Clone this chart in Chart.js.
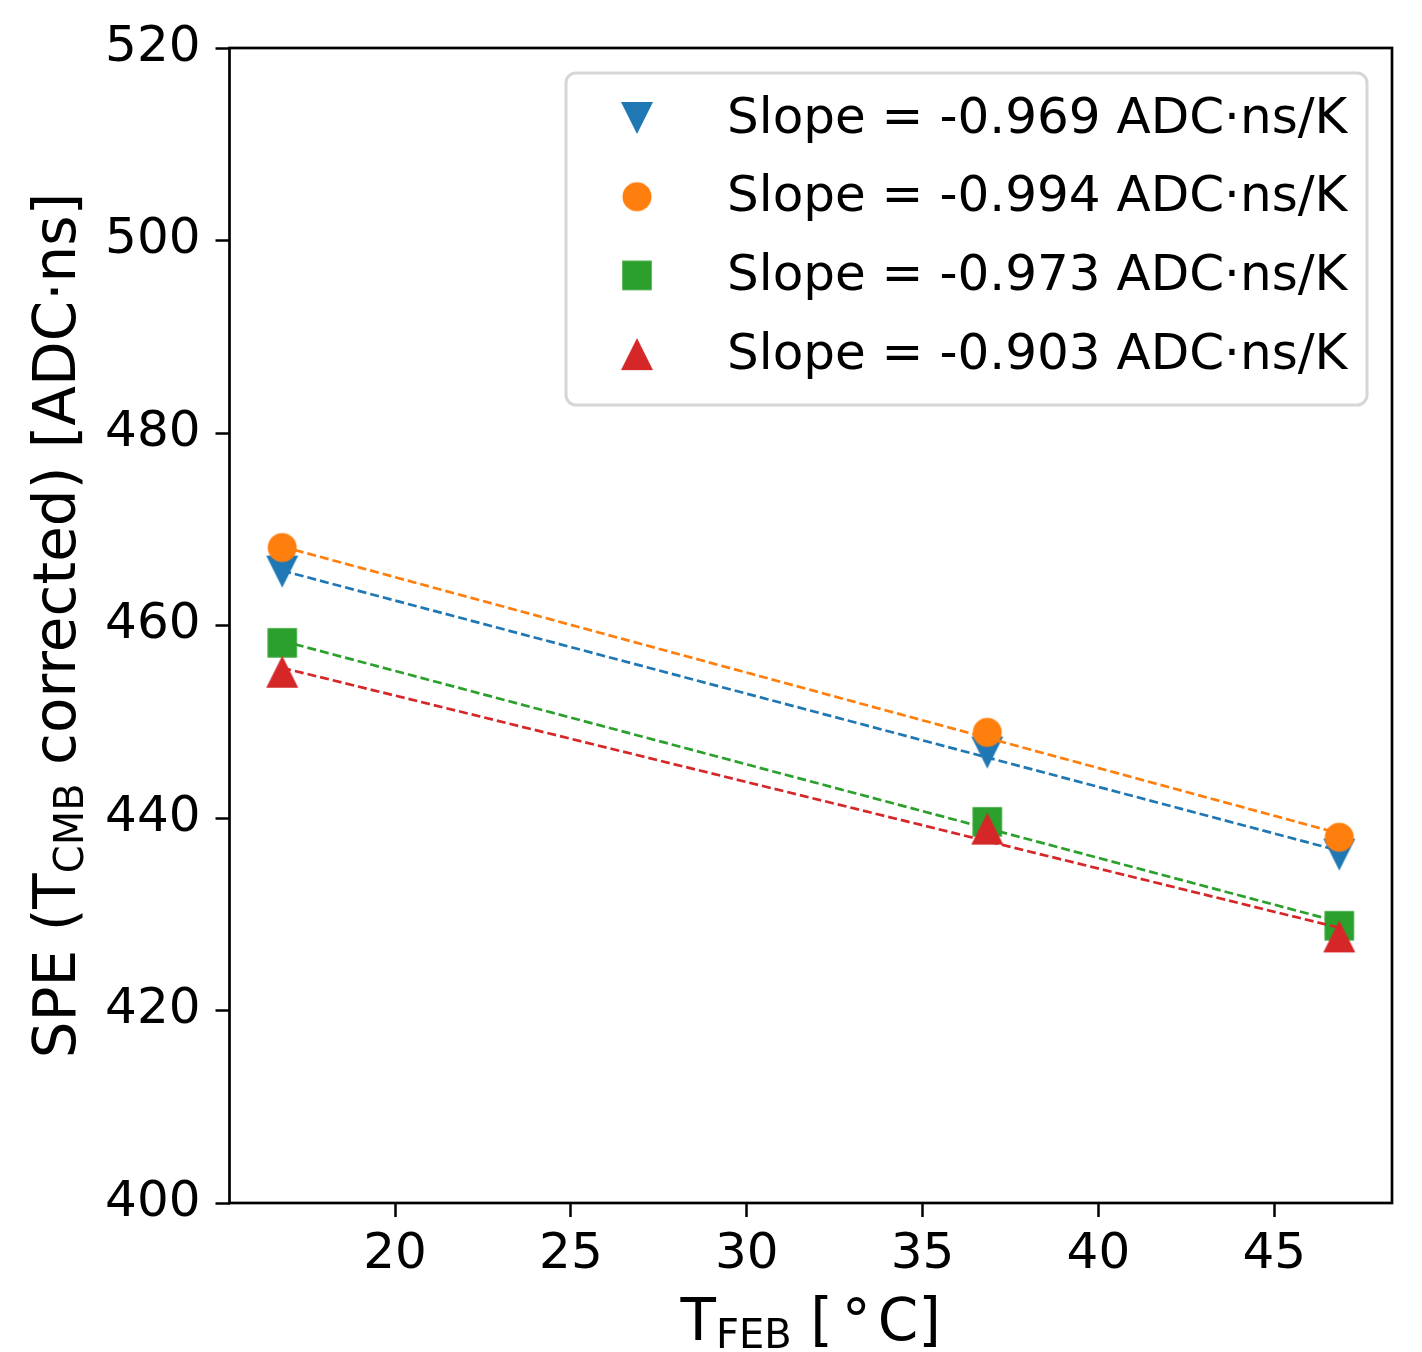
<!DOCTYPE html>
<html>
<head>
<meta charset="utf-8">
<script src="https://cdn.jsdelivr.net/npm/chart.js@4.4.0/dist/chart.umd.min.js"></script>
<style>
    body { margin: 0; background: #fff; }
    #wrap { width: 1422px; height: 1352px; }
</style>
</head>
<body>
<div id="wrap"><canvas id="MyChart" width="1422" height="1352"></canvas></div>
<script>
// measured temperatures (deg C) and SPE values per channel
var temps = [16.79, 36.84, 46.85];
var fitX = [16.79, 46.85];

var speBlue = [465.6, 446.8, 436.2];
var speOrange = [468.1, 448.9, 438.0];
var speGreen = [458.2, 439.6, 428.8];
var speRed = [455.2, 438.9, 427.7];

var fitBlue = [465.7, 436.6];
var fitOrange = [468.2, 438.4];
var fitGreen = [458.4, 429.2];
var fitRed = [455.6, 428.6];

var slopeLabels = [
    'Slope = -0.969 ADC·ns/K',
    'Slope = -0.994 ADC·ns/K',
    'Slope = -0.973 ADC·ns/K',
    'Slope = -0.903 ADC·ns/K'
];
var colors = ['#1f77b4', '#ff7f0e', '#2ca02c', '#d62728'];
var shapes = ['triDown', 'circle', 'square', 'triUp'];

var xTicks = [20, 25, 30, 35, 40, 45];
var yTicks = [400, 420, 440, 460, 480, 500, 520];

var FONT = "'DejaVu Sans', sans-serif";

function makeMarker(shape, color) {
    var c = document.createElement('canvas');
    c.width = 34;
    c.height = 34;
    var g = c.getContext('2d');
    g.fillStyle = color;
    g.beginPath();
    if (shape === 'triDown') {
        g.moveTo(1, 1); g.lineTo(33, 1); g.lineTo(17, 33);
    } else if (shape === 'triUp') {
        g.moveTo(17, 1); g.lineTo(33, 33); g.lineTo(1, 33);
    } else if (shape === 'circle') {
        g.arc(17, 17, 14.5, 0, Math.PI * 2);
    } else {
        g.rect(2.25, 2.25, 29.5, 29.5);
    }
    g.closePath();
    g.fill();
    return c;
}

function pts(xs, ys) {
    return xs.map(function (x, i) { return { x: x, y: ys[i] }; });
}

var allSpe = [speBlue, speOrange, speGreen, speRed];
var allFit = [fitBlue, fitOrange, fitGreen, fitRed];
var markers = shapes.map(function (s, i) { return makeMarker(s, colors[i]); });

var datasets = [];
for (var i = 0; i < 4; i++) {
    datasets.push({
        label: slopeLabels[i],
        data: pts(temps, allSpe[i]),
        showLine: false,
        pointStyle: markers[i],
        pointRadius: 15,
        pointHoverRadius: 15,
        backgroundColor: colors[i],
        borderColor: colors[i],
        order: 10 - 2 * i
    });
    datasets.push({
        label: '_fit' + i,
        data: pts(fitX, allFit[i]),
        showLine: true,
        pointRadius: 0,
        borderColor: colors[i],
        borderWidth: 2.7,
        borderDash: [9, 4],
        fill: false,
        order: 9 - 2 * i
    });
}

// axis titles with subscripts, frame and legend
var decorations = {
    id: 'decorations',
    afterDatasetsDraw: function (chart) {
        var ctx = chart.ctx;
        var a = chart.chartArea;
        ctx.save();
        ctx.strokeStyle = '#000';
        ctx.lineWidth = 2.7;
        ctx.strokeRect(a.left, a.top, a.right - a.left, a.bottom - a.top);
        ctx.restore();
    },
    afterDraw: function (chart) {
        var ctx = chart.ctx;
        var a = chart.chartArea;
        ctx.save();
        ctx.fillStyle = '#000';
        ctx.textBaseline = 'alphabetic';
        ctx.textAlign = 'left';

        function drawRun(parts, startX, baseY) {
            var x = startX;
            parts.forEach(function (p) {
                ctx.font = p.size + 'px ' + FONT;
                x += (p.gap || 0);
                ctx.fillText(p.t, x, baseY + (p.dy || 0));
                x += ctx.measureText(p.t).width;
            });
            return x;
        }
        function runWidth(parts) {
            var w = 0;
            parts.forEach(function (p) {
                ctx.font = p.size + 'px ' + FONT;
                w += (p.gap || 0) + ctx.measureText(p.t).width;
            });
            return w;
        }

        // x title
        var xParts = [
            { t: 'T', size: 58 },
            { t: 'FEB', size: 40, dy: 8 },
            { t: ' [', size: 58 },
            { t: '°', size: 58, gap: 9 },
            { t: 'C]', size: 58, gap: 7 }
        ];
        var cx = (a.left + a.right) / 2;
        drawRun(xParts, cx - runWidth(xParts) / 2, 1340);

        // y title
        var yParts = [
            { t: 'SPE (T', size: 58 },
            { t: 'CMB', size: 40, dy: 8 },
            { t: ' corrected) [ADC·ns]', size: 58 }
        ];
        ctx.save();
        ctx.translate(75, (a.top + a.bottom) / 2);
        ctx.rotate(-Math.PI / 2);
        drawRun(yParts, -runWidth(yParts) / 2, 0);
        ctx.restore();

        // legend
        var lw = 801, lh = 332;
        var lx = a.right - 25 - lw, ly = a.top + 25;
        var r = 10;
        ctx.beginPath();
        ctx.moveTo(lx + r, ly);
        ctx.arcTo(lx + lw, ly, lx + lw, ly + lh, r);
        ctx.arcTo(lx + lw, ly + lh, lx, ly + lh, r);
        ctx.arcTo(lx, ly + lh, lx, ly, r);
        ctx.arcTo(lx, ly, lx + lw, ly, r);
        ctx.closePath();
        ctx.fillStyle = 'rgba(255,255,255,0.8)';
        ctx.fill();
        ctx.strokeStyle = '#d6d6d6';
        ctx.lineWidth = 3;
        ctx.stroke();

        ctx.font = '50px ' + FONT;
        ctx.fillStyle = '#000';
        var rowY = ly + 45;
        chart.data.datasets.forEach(function (ds) {
            if (ds.label.charAt(0) === '_') return;
            var m = ds.pointStyle;
            ctx.drawImage(m, lx + 71 - m.width / 2, rowY - m.height / 2);
            ctx.fillText(ds.label, lx + 161, rowY + 14.5);
            rowY += 78.7;
        });
        ctx.restore();
    }
};

var ctx = document.getElementById('MyChart').getContext('2d');
var MyChart = new Chart(ctx, {
    type: 'scatter',
    data: { datasets: datasets },
    options: {
        responsive: false,
        animation: false,
        layout: { padding: { top: 48, right: 30, bottom: 0, left: 0 } },
        plugins: {
            legend: { display: false },
            tooltip: { enabled: false }
        },
        scales: {
            x: {
                type: 'linear',
                min: 15.29,
                max: 48.35,
                afterBuildTicks: function (scale) {
                    scale.ticks = xTicks.map(function (v) { return { value: v }; });
                },
                afterFit: function (scale) { scale.height = 149; },
                border: { display: false },
                grid: {
                    drawOnChartArea: false,
                    drawTicks: true,
                    tickLength: 14,
                    tickWidth: 2.5,
                    tickColor: '#000'
                },
                ticks: {
                    font: { family: FONT, size: 50 },
                    color: '#000',
                    padding: 8,
                    maxRotation: 0
                }
            },
            y: {
                type: 'linear',
                min: 400,
                max: 520,
                afterBuildTicks: function (scale) {
                    scale.ticks = yTicks.map(function (v) { return { value: v }; });
                },
                afterFit: function (scale) { scale.width = 229.5; },
                border: { display: false },
                grid: {
                    drawOnChartArea: false,
                    drawTicks: true,
                    tickLength: 14,
                    tickWidth: 2.5,
                    tickColor: '#000'
                },
                ticks: {
                    font: { family: FONT, size: 50 },
                    color: '#000',
                    padding: 15
                }
            }
        }
    },
    plugins: [decorations]
});
</script>
</body>
</html>
